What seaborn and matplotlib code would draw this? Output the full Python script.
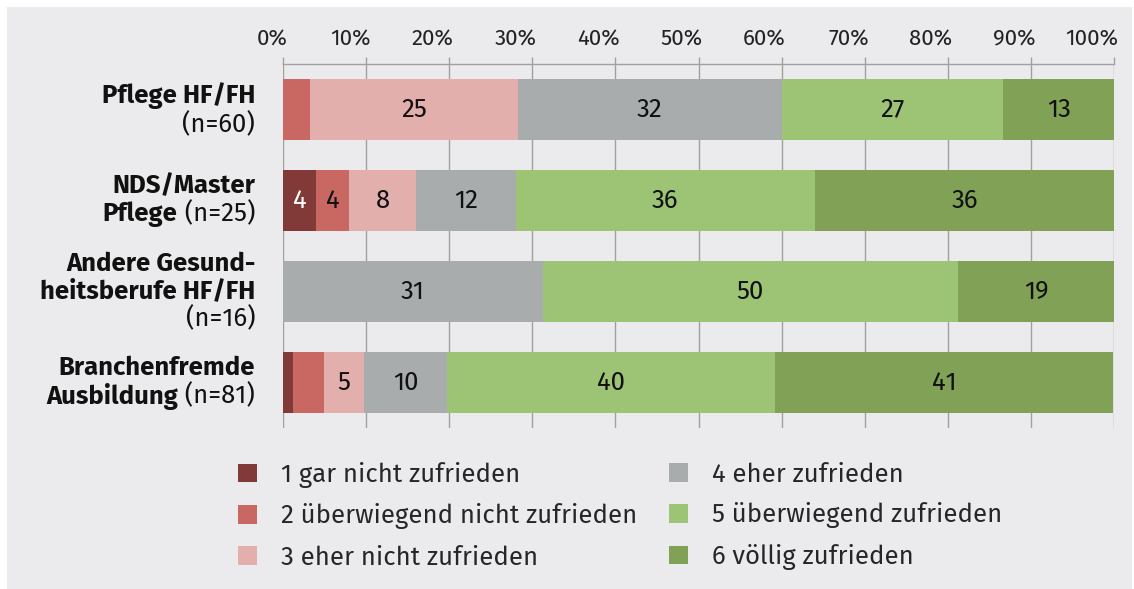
import numpy as np
import pandas as pd
import matplotlib.pyplot as plt
import seaborn as sns
from matplotlib.patches import Rectangle, Patch
from matplotlib.offsetbox import TextArea, HPacker, VPacker, AnnotationBbox

# ==========================================
# DATA (percent of respondents per group)
# ==========================================
groups = ["Pflege HF/FH", "NDS/Master Pflege", "Andere Gesundheitsberufe HF/FH", "Branchenfremde Ausbildung"]
n_sizes = [60, 25, 16, 81]
levels = ["1 gar nicht zufrieden", "2 überwiegend nicht zufrieden", "3 eher nicht zufrieden",
          "4 eher zufrieden", "5 überwiegend zufrieden", "6 völlig zufrieden"]
level_1 = [0.0, 4.0, 0.0, 1.2]
level_2 = [3.3, 4.0, 0.0, 3.7]
level_3 = [25.0, 8.0, 0.0, 4.9]
level_4 = [31.7, 12.0, 31.25, 9.9]
level_5 = [26.7, 36.0, 50.0, 39.5]
level_6 = [13.3, 36.0, 18.75, 40.7]
tick_values = [0, 10, 20, 30, 40, 50, 60, 70, 80, 90, 100]

colors = ["#823a38", "#c96762", "#e3afac", "#a9acad", "#9dc374", "#80a156"]
bg = "#ebebed"
FS_TICK = 16
FS = 18.5

df = pd.DataFrame({"Gruppe": groups, levels[0]: level_1, levels[1]: level_2, levels[2]: level_3,
                   levels[3]: level_4, levels[4]: level_5, levels[5]: level_6})
cum = df[levels].cumsum(axis=1)

sns.set_style("white")
plt.rcParams["font.family"] = ["Fira Sans", "Lato", "DejaVu Sans"]

fig = plt.figure(figsize=(11.34, 5.89), dpi=100)
fig.patch.set_facecolor("white")
fig.patches.append(Rectangle((7 / 1134, 0), 1125 / 1134, 1 - 7 / 589, transform=fig.transFigure,
                             facecolor=bg, edgecolor="none", zorder=-10))
ax = fig.add_axes([283 / 1134, 1 - 428 / 589, (1114 - 283) / 1134, (428 - 64) / 589])
ax.set_facecolor(bg)

# stacked bars: draw cumulative totals from last level to first
for i in range(len(levels) - 1, -1, -1):
    sns.barplot(x=cum[levels[i]], y=df["Gruppe"], order=groups, orient="h", color=colors[i],
                saturation=1, width=0.67, linewidth=0, ax=ax, zorder=3)

# segment labels
for gi, g in enumerate(groups):
    left = 0.0
    for li, lev in enumerate(levels):
        v = df.loc[gi, lev]
        if v >= 4:
            ax.text(left + v / 2, gi, f"{v:.0f}", ha="center", va="center", fontsize=FS,
                    color="white" if li == 0 else "#111111", zorder=5)
        left += v

ax.set_xlim(0, 100)
ax.set_ylim(3.5, -0.5)
ax.xaxis.tick_top()
ax.set_xticks(tick_values)
ax.set_xticklabels([])
ax.tick_params(axis="x", length=5, width=1, color="#a0a0a0")
# percent labels sit right-aligned just past their tick
for t in tick_values:
    ax.annotate(f"{t}%", xy=(t, 1), xycoords=("data", "axes fraction"), xytext=(3, 13),
                textcoords="offset points", ha="right", va="baseline", fontsize=FS_TICK,
                color="#222222", annotation_clip=False)
ax.set_yticks([])
ax.set_xlabel("")
ax.set_ylabel("")
ax.grid(axis="x", color="#a0a0a0", lw=1, zorder=0)
ax.set_axisbelow(True)
for s in ["left", "right", "bottom"]:
    ax.spines[s].set_visible(False)
ax.spines["top"].set_color("#a0a0a0")
ax.spines["top"].set_linewidth(1)

# group labels (bold name + regular sample size)
label_lines = [
    [[("Pflege HF/FH", "bold")], [("(n=60)", "normal")]],
    [[("NDS/Master", "bold")], [("Pflege", "bold"), (" (n=25)", "normal")]],
    [[("Andere Gesund-", "bold")], [("heitsberufe HF/FH", "bold")], [("(n=16)", "normal")]],
    [[("Branchenfremde", "bold")], [("Ausbildung", "bold"), (" (n=81)", "normal")]],
]
for gi, lines in enumerate(label_lines):
    rows = []
    for line in lines:
        parts = [TextArea(t, textprops=dict(fontsize=FS, fontweight=w, color="#111111")) for t, w in line]
        rows.append(HPacker(children=parts, pad=0, sep=0, align="baseline"))
    box = VPacker(children=rows, pad=0, sep=1.8, align="right")
    ab = AnnotationBbox(box, (0, gi), xycoords=("axes fraction", "data"), xybox=(-20, 0),
                        boxcoords="offset points", box_alignment=(1, 0.5), frameon=False,
                        annotation_clip=False)
    ax.add_artist(ab)

# legend in two columns
handles = [Patch(facecolor=c, edgecolor="none", label=l) for c, l in zip(colors, levels)]
leg_kw = dict(frameon=False, fontsize=FS, handlelength=0.74, handleheight=0.74,
              handletextpad=0.93, labelspacing=0.6, borderpad=0, borderaxespad=0, loc="upper left")
leg1 = fig.legend(handles=handles[:3], bbox_to_anchor=(238 / 1134, 1 - 462 / 589), **leg_kw)
leg2 = fig.legend(handles=handles[3:], bbox_to_anchor=(669 / 1134, 1 - 462 / 589), **leg_kw)

fig.savefig("out.png", dpi=100, facecolor="white")
